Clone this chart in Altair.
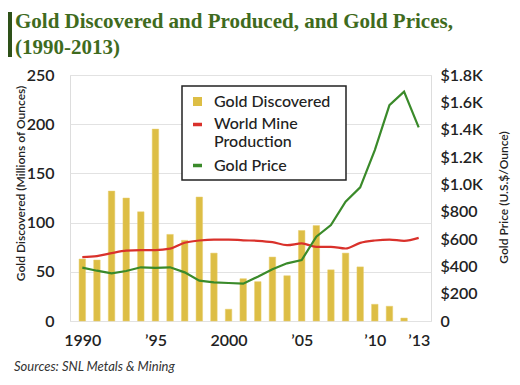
import altair as alt
import pandas as pd

years = list(range(1990, 2014))
discovered = [63, 62, 132, 125, 111, 195, 88, 82, 126, 69, 12, 43, 40, 65, 46, 92,
              97, 52, 69, 55, 17, 15, 3, None]
production = [65, 66, 69, 71.5, 72, 72, 73.5, 79.5, 81.8, 82.8, 82.8, 82, 81.5, 80.1,
              77.1, 78.8, 75.4, 75.4, 73.7, 79.4, 81.8, 82.8, 81.5, 84.5]
price = [390, 368, 349, 366, 393, 388, 393, 356, 295, 283, 278, 273, 324, 378, 422,
         446, 617, 702, 873, 978, 1251, 1580, 1678, 1417]

x_ticks = [1990, 1995, 2000, 2005, 2010, 2013]
x_labels = ["1990", "\u201995", "2000", "\u201905", "\u201910", "\u201913"]
left_ticks = [0, 50, 100, 150, 200, 250]
right_ticks = [0, 200, 400, 600, 800, 1000, 1200, 1400, 1600, 1800]

title_lines = ["Gold Discovered and Produced, and Gold Prices,", "(1990-2013)"]
source_text = "Sources: SNL Metals & Mining"
legend_labels = ["Gold Discovered", "World Mine", "Production", "Gold Price"]

BAR = "#DDBE45"
RED = "#D9312B"
GREEN = "#3A8A2A"
FONT = "Lato"

df = pd.DataFrame({"year": years, "discovered": discovered,
                   "production": production, "price": price})

label_map = "{" + ",".join(f"'{v}':'{t}'" for v, t in zip(x_ticks, x_labels)) + "}"

xenc = alt.X("year:Q", scale=alt.Scale(domain=[1989.5, 2013.5], nice=False, zero=False),
             axis=alt.Axis(values=x_ticks, labelExpr=f"{label_map}[datum.value]",
                           grid=False, ticks=False, domain=False, title=None,
                           labelFontSize=16, labelFont=FONT, labelFontWeight=600,
                           labelColor="#222", labelPadding=11))

yleft = alt.Scale(domain=[0, 250], nice=False)

bars = alt.Chart(df).transform_filter("isValid(datum.discovered)").mark_bar(
    color=BAR, size=6.5, stroke="#E8CF70", strokeWidth=0.5
).encode(
    x=xenc,
    y=alt.Y("discovered:Q", scale=yleft,
            axis=alt.Axis(values=left_ticks, orient="left", grid=True, gridColor="#E2E2E2",
                          gridWidth=1.2, ticks=False, domain=False,
                          title="Gold Discovered (Millions of Ounces)",
                          titleFont=FONT, titleFontSize=12, titleFontWeight=600,
                          titleColor="#222", titleX=-50, titleY=108, titleAngle=270,
                          titleAlign="center", titleBaseline="middle",
                          labelFontSize=16, labelFont=FONT, labelFontWeight=600,
                          labelColor="#222", labelPadding=16)),
)

red = alt.Chart(df).mark_line(color=RED, strokeWidth=2.2, interpolate="monotone").encode(
    x="year:Q", y=alt.Y("production:Q", scale=yleft)
)

green = alt.Chart(df).mark_line(color=GREEN, strokeWidth=2.2).encode(
    x="year:Q",
    y=alt.Y("price:Q", scale=alt.Scale(domain=[0, 1800], nice=False),
            axis=alt.Axis(values=right_ticks, orient="right", grid=False, ticks=False,
                          domain=False,
                          labelExpr="datum.value == 0 ? '0' : (datum.value >= 1000 ? '$' + format(datum.value/1000, '.1f') + 'K' : '$' + datum.value)",
                          title="Gold Price (U.S.$/Ounce)",
                          titleFont=FONT, titleFontSize=12, titleFontWeight=600,
                          titleColor="#222", titleX=72, titleY=122, titleAngle=270,
                          titleAlign="center", titleBaseline="middle",
                          labelFontSize=16, labelFont=FONT, labelFontWeight=600,
                          labelColor="#222", labelPadding=9)),
)

one = alt.Data(values=[{}])

# legend box
leg_box = alt.Chart(one).mark_rect(fill="white", stroke="#222", strokeWidth=1.5).encode(
    x=alt.value(112), x2=alt.value(276), y=alt.value(11), y2=alt.value(105))
leg_sq = alt.Chart(one).mark_rect(color=BAR).encode(
    x=alt.value(123), x2=alt.value(132), y=alt.value(22), y2=alt.value(31))
leg_red = alt.Chart(one).mark_rule(color=RED, strokeWidth=3.5).encode(
    x=alt.value(123), x2=alt.value(132), y=alt.value(49.5))
leg_green = alt.Chart(one).mark_rule(color=GREEN, strokeWidth=3.5).encode(
    x=alt.value(123), x2=alt.value(132), y=alt.value(90.5))
leg_txt = []
for lab, yy in zip(legend_labels, [26.5, 49, 67, 90.5]):
    leg_txt.append(alt.Chart(one).mark_text(
        text=lab, align="left", baseline="middle", font=FONT, fontSize=16,
        fontWeight=500, color="#222").encode(x=alt.value(144), y=alt.value(yy)))

title1 = alt.Chart(one).mark_text(text=title_lines[0], align="left", baseline="middle",
                                  font="Liberation Serif", fontSize=21, fontWeight="bold",
                                  color="#3F6B1E").encode(x=alt.value(-55), y=alt.value(-53))
title2 = alt.Chart(one).mark_text(text=title_lines[1], align="left", baseline="middle",
                                  font="Liberation Serif", fontSize=21, fontWeight="bold",
                                  color="#3F6B1E").encode(x=alt.value(-55), y=alt.value(-27))
title_bar = alt.Chart(one).mark_rect(color="#2E5119").encode(
    x=alt.value(-62), x2=alt.value(-58), y=alt.value(-63), y2=alt.value(-18))
source = alt.Chart(one).mark_text(text=source_text, align="left", baseline="middle",
                                  font=FONT, fontSize=13, fontStyle="italic",
                                  color="#333").encode(x=alt.value(-56), y=alt.value(292))

left_layer = alt.layer(bars, red)
chart = alt.layer(
    left_layer, green, leg_box, leg_sq, leg_red, leg_green, *leg_txt,
    title1, title2, title_bar, source
).resolve_scale(y="independent").properties(
    width=361, height=246,
    padding={"left": 62, "top": 67, "right": 80, "bottom": 56},
    autosize=alt.AutoSizeParams(type="none"),
).configure_view(stroke="#111", strokeWidth=1.5).configure(background="white")

chart.save("out.html", embed_options={"renderer": "svg", "actions": False})
